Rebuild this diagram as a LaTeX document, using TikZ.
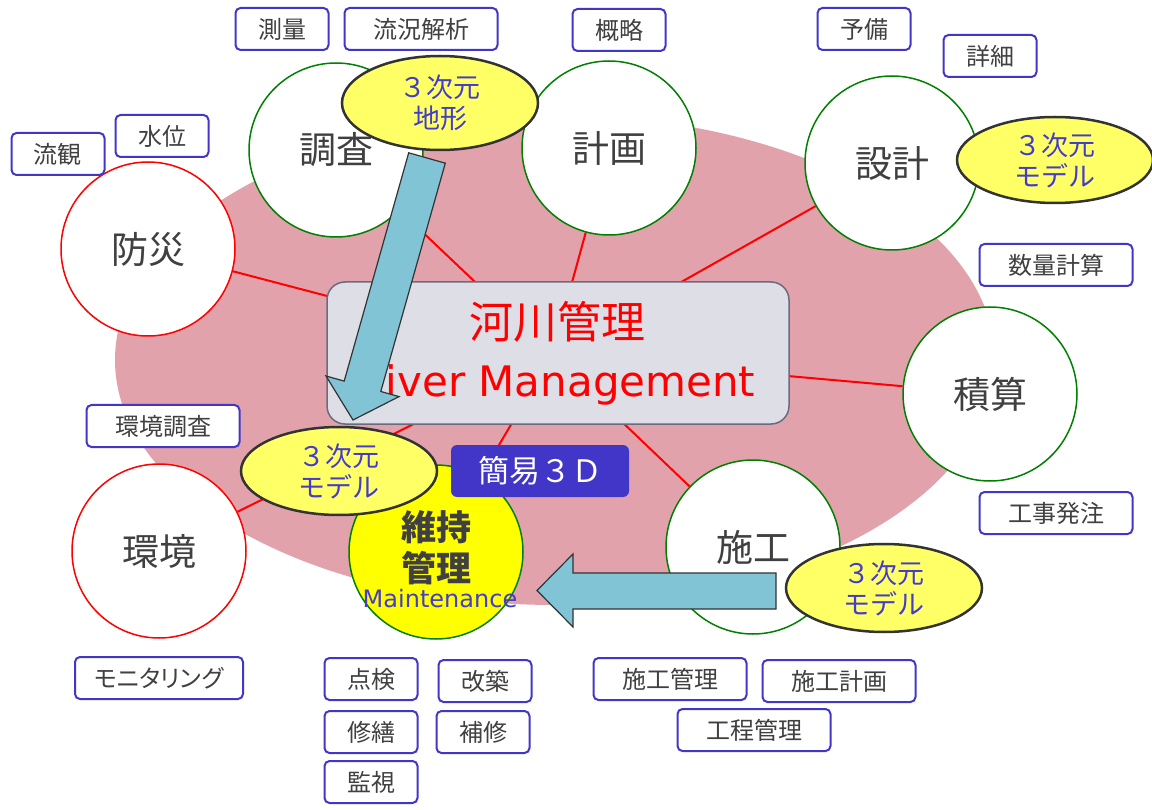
\documentclass[tikz,border=0pt]{standalone}
\usepackage{fontspec}
\setmainfont{DejaVu Sans}
\newfontfamily\jp{Noto Sans CJK JP}
\newfontfamily\jpp{Noto Sans CJK JP}[RawFeature=+palt]
\usetikzlibrary{shapes.geometric}
\pgfdeclarelayer{pinklayer}
\pgfdeclarelayer{spokelayer}
\pgfsetlayers{pinklayer,spokelayer,main}
\definecolor{pinkbg}{RGB}{226,162,171}
\definecolor{txtgray}{RGB}{64,64,64}
\definecolor{boxblue}{RGB}{66,54,200}
\definecolor{txtblue}{RGB}{68,60,204}
\definecolor{yel}{RGB}{255,255,102}
\definecolor{ellgray}{RGB}{51,51,51}
\definecolor{arrblue}{RGB}{128,196,214}
\definecolor{rectfill}{RGB}{222,222,230}
\definecolor{rectdraw}{RGB}{106,106,128}
\definecolor{cgreen}{RGB}{0,128,0}
\definecolor{ijiyellow}{RGB}{255,255,0}
\tikzset{
  circ/.style={circle, line width=1.5pt, fill=white, minimum size=174pt, inner sep=0pt,
    text=txtgray, font=\jp\fontsize{37}{40}\selectfont},
  gcirc/.style={circ, draw=cgreen},
  rcirc/.style={circ, draw=red},
  tag/.style={draw=boxblue, line width=2pt, rounded corners=5pt, fill=white,
    minimum height=42pt, minimum width=93pt, inner sep=0pt, text=txtgray,
    font=\jp\fontsize{24}{26}\selectfont},
  widetag/.style={tag, minimum width=153pt},
  yell/.style={ellipse, draw=ellgray, line width=2.5pt, fill=yel, minimum width=196pt,
    minimum height=90pt, inner sep=0pt, text=txtblue, align=center,
    font=\jp\fontsize{27}{31}\selectfont},
  spoke/.style={draw=red, line width=2pt},
  bigarrow/.style={fill=arrblue, draw=ellgray, line width=1.2pt, line join=miter}
}
\begin{document}
\begin{tikzpicture}[x=1pt,y=-1pt]
\useasboundingbox (0,0) rectangle (1152,810);
% background ellipse
\begin{pgfonlayer}{pinklayer}
\fill[pinkbg] (555,360) ellipse [x radius=440, y radius=245];
\end{pgfonlayer}
% hub
\coordinate (hub) at (552,355);
% circles
\node[gcirc] (chousa) at (336,150) {調査};
\node[gcirc] (keikaku) at (609,148) {計画};
\node[gcirc] (sekkei) at (892,163) {設計};
\node[rcirc] (bousai) at (148,249) {防災};
\node[gcirc] (sekisan) at (990,394) {積算};
\node[rcirc] (kankyo) at (159,551) {環境};
\node[gcirc, fill=ijiyellow] (iji) at (436,552) {};
\node[gcirc] (sekou) at (753,547) {施工};
% spokes (behind circles)
\begin{pgfonlayer}{spokelayer}
\draw[spoke] (hub) -- (chousa);
\draw[spoke] (hub) -- (keikaku);
\draw[spoke] (hub) -- (sekkei);
\draw[spoke] (hub) -- (bousai);
\draw[spoke] (hub) -- (sekisan);
\draw[spoke] (hub) -- (kankyo);
\draw[spoke] (hub) -- (iji);
\draw[spoke] (hub) -- (sekou);
\end{pgfonlayer}
% maintenance text
\node[text=txtgray, font=\jp\bfseries\fontsize{35}{38}\selectfont, inner sep=0pt] (iji1) at (436,527) {維持};
\node[text=txtgray, font=\jp\bfseries\fontsize{35}{38}\selectfont, inner sep=0pt] (iji2) at (436,568) {管理};
\node[text=txtblue, font=\fontsize{24}{26}\selectfont, inner sep=0pt] (iji3) at (440,599) {Maintenance};
% central box
\node[draw=rectdraw, fill=rectfill, line width=1.5pt, rounded corners=18pt,
      minimum width=462pt, minimum height=142pt] (center) at (558,353) {};
\node[text=red, font=\jp\fontsize{44}{46}\selectfont, inner sep=0pt] (kasen) at (557,322) {河川管理};
\node[text=red, font=\fontsize{42}{44}\selectfont, inner sep=0pt, anchor=base] (rm) at (556,397) {River Management};
% kan'i 3D box
\node[fill=boxblue, rounded corners=6pt, minimum width=178pt, minimum height=52pt,
      text=white, font=\jp\fontsize{31}{33}\selectfont, inner sep=0pt] (kani) at (540,471) {簡易３Ｄ};
% yellow ellipses
\node[yell, minimum height=94pt] (chikei) at (440,103) {３次元\\地形};
\node[yell, minimum height=86pt] (m1) at (1055,160) {３次元\\モデル};
\node[yell, minimum height=88pt] (m2) at (339,471) {３次元\\モデル};
\node[yell, minimum height=88pt] (m3) at (884,588) {３次元\\モデル};
% arrows
\draw[bigarrow] (408.7,152.8) -- (445.3,163.2) -- (380.8,391.5) -- (399,396.6) -- (353,420)
   -- (326,376) -- (344.2,381.1) -- cycle;
\draw[bigarrow] (776,573) -- (573,573) -- (573,554) -- (537,590.5) -- (573,627) -- (573,609)
   -- (776,609) -- cycle;
% tags
\node[tag] (sokuryo) at (282,29) {測量};
\node[widetag] (ryukyo) at (421,29) {流況解析};
\node[tag] (gairyaku) at (619,30) {概略};
\node[tag] (yobi) at (864,29) {予備};
\node[tag] (shosai) at (990,56) {詳細};
\node[widetag] (suryo) at (1056,265) {数量計算};
\node[tag] (ryukan) at (58,154) {流観};
\node[tag] (suii) at (162,136) {水位};
\node[widetag] (kchosa) at (163,426) {環境調査};
\node[widetag] (hatchu) at (1056,513) {工事発注};
\node[tag, minimum width=168pt, font=\jpp\fontsize{24}{26}\selectfont] (monitor) at (159,678) {モニタリング};
\node[tag] (tenken) at (371,679) {点検};
\node[tag] (kaichiku) at (485,681) {改築};
\node[tag] (shuzen) at (371,732) {修繕};
\node[tag] (hoshu) at (483,732) {補修};
\node[tag] (kanshi) at (371,782) {監視};
\node[widetag] (skanri) at (670,679) {施工管理};
\node[widetag] (skeikaku) at (839,681) {施工計画};
\node[widetag] (kotei) at (754,730) {工程管理};
\end{tikzpicture}
\end{document}
